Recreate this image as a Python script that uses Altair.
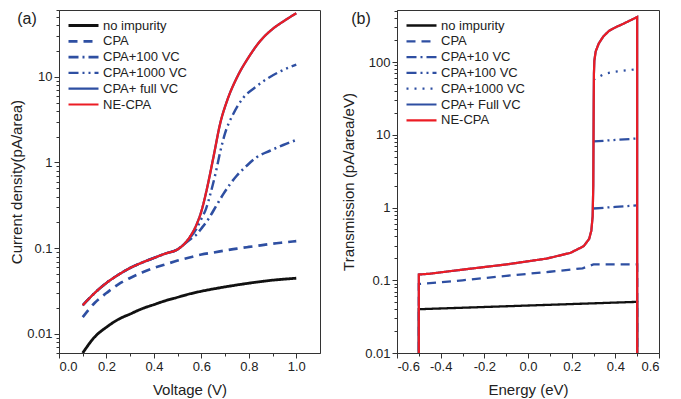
import altair as alt
import pandas as pd

FONT = "Liberation Sans"
BLACK = "#111111"
BLUE = "#2e4fa2"
RED = "#ec1c24"
AX = "#333333"

# ---------------- panel (a): current density vs voltage ----------------
a_names = ["no impurity", "CPA", "CPA+100 VC", "CPA+1000 VC", "CPA+ full VC", "NE-CPA"]

a_v_base = [0.10, 0.15, 0.20, 0.25, 0.30, 0.35, 0.40, 0.45, 0.50, 0.55, 0.60,
            0.65, 0.70, 0.75, 0.80, 0.85, 0.90, 0.95, 1.00]
a_noimp = [0.0060, 0.0092, 0.0120, 0.0148, 0.0171, 0.0197, 0.0220, 0.0245, 0.0268,
           0.0293, 0.0315, 0.0335, 0.0354, 0.0373, 0.0391, 0.0408, 0.0424, 0.0436, 0.0447]
a_cpa = [0.0157, 0.0230, 0.0300, 0.0380, 0.0450, 0.0520, 0.0589, 0.0650, 0.0718,
         0.0780, 0.0844, 0.0890, 0.0940, 0.0990, 0.1035, 0.1080, 0.1130, 0.1170, 0.1210]

a_v_ne = [0.10, 0.15, 0.20, 0.25, 0.30, 0.35, 0.40, 0.45, 0.50, 0.525, 0.555, 0.58,
          0.60, 0.615, 0.63, 0.65, 0.68, 0.71, 0.75, 0.80, 0.85, 0.90, 0.95, 1.00]
a_ne = [0.0216, 0.030, 0.0394, 0.049, 0.0589, 0.068, 0.077, 0.087, 0.097, 0.110, 0.14, 0.19,
        0.27, 0.39, 0.60, 1.12, 2.9, 5.4, 9.8, 17.0, 26.5, 36.0, 45.0, 55.0]

a_v_vc100 = [0.10, 0.15, 0.20, 0.25, 0.30, 0.35, 0.40, 0.45, 0.50, 0.525, 0.555, 0.58,
             0.60, 0.63, 0.665, 0.693, 0.721, 0.749, 0.791, 0.833, 0.889, 0.945, 1.00]
a_vc100 = [0.0216, 0.030, 0.0394, 0.049, 0.0589, 0.068, 0.077, 0.087, 0.097, 0.110, 0.128, 0.145,
           0.17, 0.22, 0.32, 0.43, 0.56, 0.70, 0.915, 1.15, 1.37, 1.60, 1.83]

a_v_vc1000 = [0.10, 0.15, 0.20, 0.25, 0.30, 0.35, 0.40, 0.45, 0.50, 0.525, 0.555, 0.58,
              0.60, 0.62, 0.64, 0.66, 0.68, 0.70, 0.735, 0.777, 0.826, 0.875, 0.931, 1.00]
a_vc1000 = [0.0216, 0.030, 0.0394, 0.049, 0.0589, 0.068, 0.077, 0.087, 0.097, 0.110, 0.135, 0.17,
            0.22, 0.29, 0.45, 0.75, 1.35, 2.2, 3.7, 5.7, 7.5, 9.4, 11.5, 13.8]

# ---------------- panel (b): transmission vs energy ----------------
b_names = ["no impurity", "CPA", "CPA+10 VC", "CPA+100 VC", "CPA+1000 VC", "CPA+ Full VC", "NE-CPA"]

b_e_noimp = [-0.5, -0.5, 0.5, 0.5]
b_noimp = [0.001, 0.040, 0.0505, 0.001]
b_e_cpa = [-0.5, -0.5, -0.3, -0.1, 0.1, 0.25, 0.3, 0.5, 0.5]
b_cpa = [0.001, 0.089, 0.0998, 0.115, 0.131, 0.146, 0.165, 0.165, 0.001]
b_e_vc10 = [0.3, 0.4, 0.5]
b_vc10 = [0.97, 1.02, 1.07]
b_e_vc100 = [0.3, 0.4, 0.5]
b_vc100 = [8.1, 8.5, 8.9]
b_e_vc1000 = [0.3, 0.35, 0.4, 0.5]
b_vc1000 = [57.0, 69.0, 74.0, 80.0]
b_e_ne = [-0.5, -0.5, -0.45, -0.3, -0.1, 0.087, 0.194, 0.255, 0.28, 0.29, 0.296, 0.299,
          0.300, 0.301, 0.302, 0.304, 0.31, 0.324, 0.345, 0.37, 0.40, 0.431, 0.465, 0.497, 0.5, 0.5]
b_ne = [0.001, 0.12, 0.123, 0.14, 0.165, 0.199, 0.238, 0.294, 0.37, 0.48, 0.75, 2.0,
        8.0, 30.0, 70.0, 105.0, 140.0, 180.0, 225.0, 267.0, 300.0, 330.0, 370.0, 412.0, 416.0, 0.001]

panel_labels = ["(a)", "(b)"]


def frame(series_list):
    rows = []
    for name, xs, ys in series_list:
        for i, (x, y) in enumerate(zip(xs, ys)):
            rows.append({"series": name, "x": x, "y": y, "i": i})
    return pd.DataFrame(rows)


df_a = frame([
    ("no impurity", a_v_base, a_noimp),
    ("CPA", a_v_base, a_cpa),
    ("CPA+100 VC", a_v_vc100, a_vc100),
    ("CPA+1000 VC", a_v_vc1000, a_vc1000),
    ("CPA+ full VC", a_v_ne, a_ne),
    ("NE-CPA", a_v_ne, a_ne),
])
df_b = frame([
    ("no impurity", b_e_noimp, b_noimp),
    ("CPA", b_e_cpa, b_cpa),
    ("CPA+10 VC", b_e_vc10, b_vc10),
    ("CPA+100 VC", b_e_vc100, b_vc100),
    ("CPA+1000 VC", b_e_vc1000, b_vc1000),
    ("CPA+ Full VC", b_e_ne, b_ne),
    ("NE-CPA", b_e_ne, b_ne),
])

DASH = {"solid": [1, 0], "dash": [9, 6], "dashdot": [10, 4, 2, 4],
        "dashdotdot": [10, 4, 2, 4, 2, 4], "dot": [2, 6]}


def log_ticks(lo_exp, hi_exp, top):
    vals = []
    for e in range(lo_exp, hi_exp + 1):
        for k in range(1, 10):
            v = round(k * 10 ** e, 10)
            vals.append(v)
    return [v for v in vals if v <= top * 1.0001]


MAJ_LOG = "abs(log(datum.value)/LN10 - round(log(datum.value)/LN10)) < 1e-6"
MAJ_X = "abs(datum.value*5 - round(datum.value*5)) < 1e-6"


def panel(df, names, colors, dashes, widths, xdom, xticks, ydom, yticks, xtitle, ytitle,
          w, h, legx, legy, ytitlepad, label, label_x):
    legend = alt.Legend(title=None, orient="none", legendX=legx, legendY=legy,
                        symbolType="M-1,0H5", symbolSize=100, labelOffset=23,
                        labelFont=FONT, labelFontSize=13, labelColor="#222",
                        rowPadding=1.8, padding=0, symbolStrokeWidth=2.5)
    color = alt.Color("series:N", scale=alt.Scale(domain=names, range=colors), legend=legend)
    dash = alt.StrokeDash("series:N", scale=alt.Scale(domain=names, range=dashes), legend=legend)
    sw = alt.StrokeWidth("series:N", scale=alt.Scale(domain=names, range=widths), legend=None)
    xax = alt.Axis(values=xticks, title=xtitle, grid=False,
                   labelExpr="(%s) ? ((datum.value < 0 ? '-' : '') + format(abs(datum.value), '.1f')) : ''" % MAJ_X,
                   tickSize={"condition": {"test": MAJ_X, "value": 5}, "value": 3},
                   labelPadding=2, titlePadding=9)
    yax = alt.Axis(values=yticks, title=ytitle, grid=False,
                   labelExpr="(%s) ? format(datum.value, '~g') : ''" % MAJ_LOG,
                   tickSize={"condition": {"test": MAJ_LOG, "value": 5}, "value": 3},
                   labelPadding=2, titlePadding=ytitlepad)
    enc = dict(
        x=alt.X("x:Q", scale=alt.Scale(domain=xdom, nice=False, zero=False), axis=xax),
        y=alt.Y("y:Q", scale=alt.Scale(type="log", domain=ydom, nice=False), axis=yax),
        color=color, strokeDash=dash, strokeWidth=sw,
        order=alt.Order("i:Q"),
        detail="series:N",
    )
    interp = "monotone" if label == "(a)" else "linear"
    base = alt.Chart(df[df.series != "NE-CPA"]).mark_line(clip=True, interpolate=interp).encode(**enc)
    top = alt.Chart(df[df.series == "NE-CPA"]).mark_line(clip=True, interpolate=interp).encode(**enc)
    txt = alt.Chart(pd.DataFrame({"t": [label]})).mark_text(
        font=FONT, fontSize=16, align="center", baseline="middle", color="#222"
    ).encode(text="t:N", x=alt.value(label_x), y=alt.value(8.5))
    return alt.layer(base, top, txt).properties(width=w, height=h)


left = panel(df_a, a_names,
             [BLACK, BLUE, BLUE, BLUE, BLUE, RED],
             [DASH["solid"], DASH["dash"], DASH["dashdot"], DASH["dashdotdot"], DASH["solid"], DASH["solid"]],
             [2.8, 2.2, 2.2, 2.2, 3.5, 3.5],
             [0, 1.1], [round(0.1 * i, 1) for i in range(11)],
             [0.006, 60], log_ticks(-3, 1, 60)[5:],
             "Voltage (V)", "Current density(pA/area)", 261, 343, 8, 9, 2, panel_labels[0], -32)

right = panel(df_b, b_names,
              [BLACK, BLUE, BLUE, BLUE, BLUE, BLUE, RED],
              [DASH["solid"], DASH["dash"], DASH["dashdot"], DASH["dashdotdot"], DASH["dot"],
               DASH["solid"], DASH["solid"]],
              [2.3, 2.2, 2.2, 2.2, 2.0, 3.2, 3.2],
              [-0.6, 0.6], [round(-0.6 + 0.1 * i, 1) for i in range(13)],
              [0.01, 520], log_ticks(-2, 2, 520),
              "Energy (eV)", "Transmission (pA/area/eV)", 262, 343, 8, 9, 8, panel_labels[1], -36)

chart = alt.hconcat(left, right, spacing=20).resolve_scale(
    color="independent", strokeDash="independent", strokeWidth="independent",
    x="independent", y="independent"
).resolve_legend(
    color="independent", strokeDash="independent", strokeWidth="independent"
).properties(
    padding={"left": 1, "top": 1, "right": 5, "bottom": 0}
).configure_view(stroke=AX, strokeWidth=1).configure_axis(
    labelFont=FONT, labelFontSize=13, labelColor="#222",
    titleFont=FONT, titleFontSize=15, titleFontWeight="normal", titleColor="#222",
    domainColor=AX, tickColor=AX, tickWidth=1
)

chart.save("out.html", embed_options={"renderer": "svg", "actions": False})
